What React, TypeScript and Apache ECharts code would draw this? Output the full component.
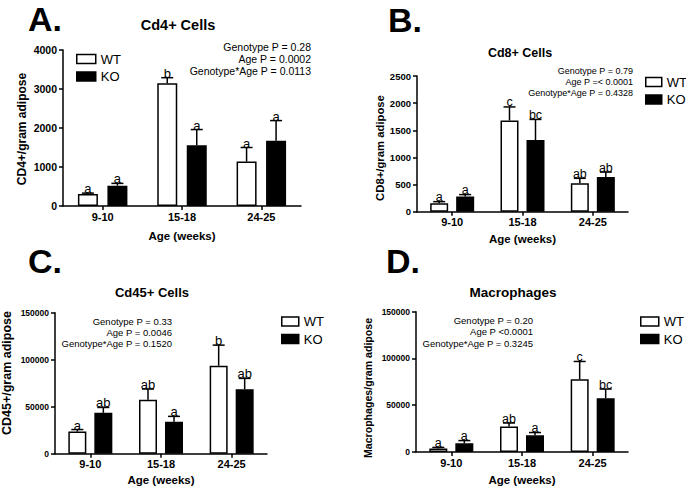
import React, { useEffect, useRef } from "react";
import * as echarts from "echarts";

const FONT = '"Liberation Sans", Arial, sans-serif';

const categories = ["9-10", "15-18", "24-25"];
const groups = ["WT", "KO"];
const xAxisTitle = "Age (weeks)";

// Panel A - Cd4+ Cells
const cd4Title = "Cd4+ Cells";
const cd4YName = "CD4+/gram adipose";
const cd4WT = [310, 3150, 1140];
const cd4WTSem = [20, 140, 360];
const cd4KO = [520, 1560, 1670];
const cd4KOSem = [60, 400, 520];
const cd4WTLetters = ["a", "b", "a"];
const cd4KOLetters = ["a", "a", "a"];
const cd4Stats = ["Genotype P = 0.28", "Age P = 0.0002", "Genotype*Age P = 0.0113"];

// Panel B - Cd8+ Cells
const cd8Title = "Cd8+ Cells";
const cd8YName = "CD8+/gram adipose";
const cd8WT = [155, 1680, 525];
const cd8WTSem = [30, 250, 90];
const cd8KO = [280, 1320, 640];
const cd8KOSem = [35, 380, 90];
const cd8WTLetters = ["a", "c", "ab"];
const cd8KOLetters = ["a", "bc", "ab"];
const cd8Stats = ["Genotype P = 0.79", "Age P =< 0.0001", "Genotype*Age P = 0.4328"];

// Panel C - Cd45+ Cells
const cd45Title = "Cd45+ Cells";
const cd45YName = "CD45+/gram adipose";
const cd45WT = [23500, 57500, 93600];
const cd45WTSem = [2200, 11300, 21900];
const cd45KO = [43500, 34000, 68500];
const cd45KOSem = [5700, 5700, 11600];
const cd45WTLetters = ["a", "ab", "b"];
const cd45KOLetters = ["ab", "a", "ab"];
const cd45Stats = ["Genotype P = 0.33", "Age P = 0.0046", "Genotype*Age P = 0.1520"];

// Panel D - Macrophages
const macTitle = "Macrophages";
const macYName = "Macrophages/gram adipose";
const macWT = [3700, 27300, 77700];
const macWTSem = [1200, 3700, 19100];
const macKO = [9300, 17800, 57400];
const macKOSem = [2900, 3000, 9900];
const macWTLetters = ["a", "ab", "c"];
const macKOLetters = ["a", "a", "bc"];
const macStats = ["Genotype P = 0.20", "Age P <0.0001", "Genotype*Age P = 0.3245"];

const panelLetters = ["A.", "B.", "C.", "D."];

type PanelCfg = {
  grid: { left: number; top: number; width: number; height: number };
  yMax: number;
  yInterval: number;
  tickFont: number;
  barWidth: number;
  barGapPx: number;
  letterFont: number;
  nameGap: number;
  wt: number[];
  wtSem: number[];
  ko: number[];
  koSem: number[];
  wtLetters: string[];
  koLetters: string[];
  legend: { left: number; top: number; itemWidth: number };
};

function errSeries(
  g: number,
  means: number[],
  sems: number[],
  letters: string[],
  offset: number,
  fontSize: number
) {
  return {
    type: "custom",
    xAxisIndex: g,
    yAxisIndex: g,
    z: 5,
    silent: true,
    clip: false,
    data: means.map((m, i) => [i, m, m + sems[i]]),
    encode: { x: 0, y: [1, 2] },
    renderItem: (params: any, api: any) => {
      const i = api.value(0);
      const base = api.coord([i, api.value(1)]);
      const top = api.coord([i, api.value(2)]);
      const x = base[0] + offset;
      const capHalf = 6;
      return {
        type: "group",
        children: [
          {
            type: "line",
            shape: { x1: x, y1: base[1], x2: x, y2: top[1] },
            style: { stroke: "#000", lineWidth: 1.5 },
          },
          {
            type: "line",
            shape: { x1: x - capHalf, y1: top[1], x2: x + capHalf, y2: top[1] },
            style: { stroke: "#000", lineWidth: 1.5 },
          },
          {
            type: "text",
            x,
            y: top[1] + 2,
            style: {
              text: letters[params.dataIndex],
              align: "center",
              verticalAlign: "bottom",
              fontSize,
              fontFamily: FONT,
              fill: "#000",
            },
          },
        ],
      };
    },
  };
}

export default function App() {
  const ref = useRef<HTMLDivElement>(null);

  useEffect(() => {
    if (!ref.current) return;
    const chart = echarts.init(ref.current, undefined, { renderer: "svg" });

    const panels: PanelCfg[] = [
      {
        grid: { left: 63, top: 50, width: 238, height: 156 },
        yMax: 4000,
        yInterval: 1000,
        tickFont: 10.5,
        barWidth: 20,
        barGapPx: 9.5,
        letterFont: 13,
        nameGap: 24,
        wt: cd4WT,
        wtSem: cd4WTSem,
        ko: cd4KO,
        koSem: cd4KOSem,
        wtLetters: cd4WTLetters,
        koLetters: cd4KOLetters,
        legend: { left: 76, top: 52, itemWidth: 19 },
      },
      {
        grid: { left: 417, top: 76, width: 211, height: 135.7 },
        yMax: 2500,
        yInterval: 500,
        tickFont: 9.5,
        barWidth: 18,
        barGapPx: 8,
        letterFont: 12.5,
        nameGap: 21,
        wt: cd8WT,
        wtSem: cd8WTSem,
        ko: cd8KO,
        koSem: cd8KOSem,
        wtLetters: cd8WTLetters,
        koLetters: cd8KOLetters,
        legend: { left: 645, top: 75, itemWidth: 16 },
      },
      {
        grid: { left: 55, top: 312.7, width: 212, height: 141 },
        yMax: 150000,
        yInterval: 50000,
        tickFont: 8.5,
        barWidth: 18,
        barGapPx: 8,
        letterFont: 13,
        nameGap: 20,
        wt: cd45WT,
        wtSem: cd45WTSem,
        ko: cd45KO,
        koSem: cd45KOSem,
        wtLetters: cd45WTLetters,
        koLetters: cd45KOLetters,
        legend: { left: 281, top: 314.5, itemWidth: 17 },
      },
      {
        grid: { left: 416, top: 311.7, width: 212, height: 141.8 },
        yMax: 150000,
        yInterval: 50000,
        tickFont: 8.5,
        barWidth: 18,
        barGapPx: 8,
        letterFont: 12.5,
        nameGap: 22,
        wt: macWT,
        wtSem: macWTSem,
        ko: macKO,
        koSem: macKOSem,
        wtLetters: macWTLetters,
        koLetters: macKOLetters,
        legend: { left: 640, top: 314.5, itemWidth: 18 },
      },
    ];

    const axisLine = { show: true, lineStyle: { color: "#000", width: 1.5 } };
    const axisTick = { show: true, length: 4, lineStyle: { color: "#000", width: 1.5 } };

    const series: any[] = [];
    panels.forEach((p, g) => {
      const off = (p.barWidth + p.barGapPx) / 2;
      series.push({
        type: "bar",
        name: groups[0],
        xAxisIndex: g,
        yAxisIndex: g,
        data: p.wt,
        barWidth: p.barWidth,
        barGap: `${(p.barGapPx / p.barWidth) * 100}%`,
        itemStyle: { color: "#fff", borderColor: "#000", borderWidth: 1.5 },
        silent: true,
      });
      series.push({
        type: "bar",
        name: groups[1],
        xAxisIndex: g,
        yAxisIndex: g,
        data: p.ko,
        barWidth: p.barWidth,
        barGap: `${(p.barGapPx / p.barWidth) * 100}%`,
        itemStyle: { color: "#000", borderColor: "#000", borderWidth: 1.5 },
        silent: true,
      });
      series.push(errSeries(g, p.wt, p.wtSem, p.wtLetters, -off, p.letterFont));
      series.push(errSeries(g, p.ko, p.koSem, p.koLetters, off, p.letterFont));
    });

    const titles = [
      { text: cd4Title, x: 178, y: 25, size: 14.5 },
      { text: cd8Title, x: 520, y: 53, size: 12.5 },
      { text: cd45Title, x: 152, y: 292, size: 13 },
      { text: macTitle, x: 513, y: 292, size: 13.5 },
    ];
    const letterPos = [
      { x: 28, y: 19 },
      { x: 388, y: 19.5 },
      { x: 28, y: 261 },
      { x: 386, y: 260.5 },
    ];
    const stats = [
      { lines: cd4Stats, x: 311, ys: [47, 59, 71], size: 10.5 },
      { lines: cd8Stats, x: 633, ys: [71, 82, 93], size: 9 },
      { lines: cd45Stats, x: 172, ys: [321, 332, 343], size: 9.5 },
      { lines: macStats, x: 533, ys: [320, 331, 343], size: 9.5 },
    ];
    const yNames = [
      { text: cd4YName, x: 21.7, y: 129, size: 12 },
      { text: cd8YName, x: 380, y: 148, size: 11.3 },
      { text: cd45YName, x: 7, y: 373, size: 12.5 },
      { text: macYName, x: 368, y: 388, size: 10.6 },
    ];

    const graphic: any[] = [];
    letterPos.forEach((lp, i) =>
      graphic.push({
        type: "text",
        x: lp.x,
        y: lp.y,
        style: {
          text: panelLetters[i],
          fontSize: 34,
          lineHeight: 34,
          fontWeight: "bold",
          fontFamily: FONT,
          fill: "#000",
          align: "left",
          verticalAlign: "middle",
        },
      })
    );
    titles.forEach((t) =>
      graphic.push({
        type: "text",
        x: t.x,
        y: t.y,
        style: {
          text: t.text,
          fontSize: t.size,
          fontWeight: "bold",
          fontFamily: FONT,
          fill: "#000",
          align: "center",
          verticalAlign: "middle",
        },
      })
    );
    stats.forEach((s) =>
      s.lines.forEach((line, j) =>
        graphic.push({
          type: "text",
          x: s.x,
          y: s.ys[j],
          style: {
            text: line,
            fontSize: s.size,
            fontFamily: FONT,
            fill: "#000",
            align: "right",
            verticalAlign: "middle",
          },
        })
      )
    );
    yNames.forEach((n) =>
      graphic.push({
        type: "text",
        x: n.x,
        y: n.y,
        rotation: Math.PI / 2,
        style: {
          text: n.text,
          fontSize: n.size,
          fontWeight: "bold",
          fontFamily: FONT,
          fill: "#000",
          align: "center",
          verticalAlign: "middle",
        },
      })
    );

    chart.setOption({
      animation: false,
      backgroundColor: "#fff",
      grid: panels.map((p) => ({ ...p.grid, containLabel: false })),
      xAxis: panels.map((p, g) => ({
        type: "category",
        gridIndex: g,
        data: categories,
        axisLine,
        axisTick: { ...axisTick, alignWithLabel: true },
        axisLabel: {
          color: "#000",
          fontWeight: "bold",
          fontSize: 11,
          fontFamily: FONT,
          margin: 5,
        },
        splitLine: { show: false },
        name: xAxisTitle,
        nameLocation: "middle",
        nameGap: p.nameGap,
        nameTextStyle: {
          color: "#000",
          fontWeight: "bold",
          fontSize: 11.5,
          fontFamily: FONT,
        },
      })),
      yAxis: panels.map((p, g) => ({
        type: "value",
        gridIndex: g,
        min: 0,
        max: p.yMax,
        interval: p.yInterval,
        axisLine,
        axisTick,
        splitLine: { show: false },
        axisLabel: {
          color: "#000",
          fontWeight: "bold",
          fontSize: p.tickFont,
          fontFamily: FONT,
          margin: 6,
          formatter: (v: number) => String(v),
        },
      })),
      legend: panels.map((p) => ({
        left: p.legend.left,
        top: p.legend.top,
        orient: "vertical",
        padding: 0,
        itemWidth: p.legend.itemWidth,
        itemHeight: 9,
        itemGap: 3.5,
        icon: "rect",
        selectedMode: false,
        textStyle: { fontSize: 13, fontFamily: FONT, color: "#000", lineHeight: 14 },
        data: [
          { name: groups[0], itemStyle: { color: "#fff", borderColor: "#000", borderWidth: 1.5 } },
          { name: groups[1], itemStyle: { color: "#000", borderColor: "#000", borderWidth: 1.5 } },
        ],
      })),
      graphic,
      series,
    });

    return () => chart.dispose();
  }, []);

  return (
    <div
      ref={ref}
      style={{ position: "fixed", left: 0, top: 0, width: 686, height: 487, background: "#fff" }}
    />
  );
}
